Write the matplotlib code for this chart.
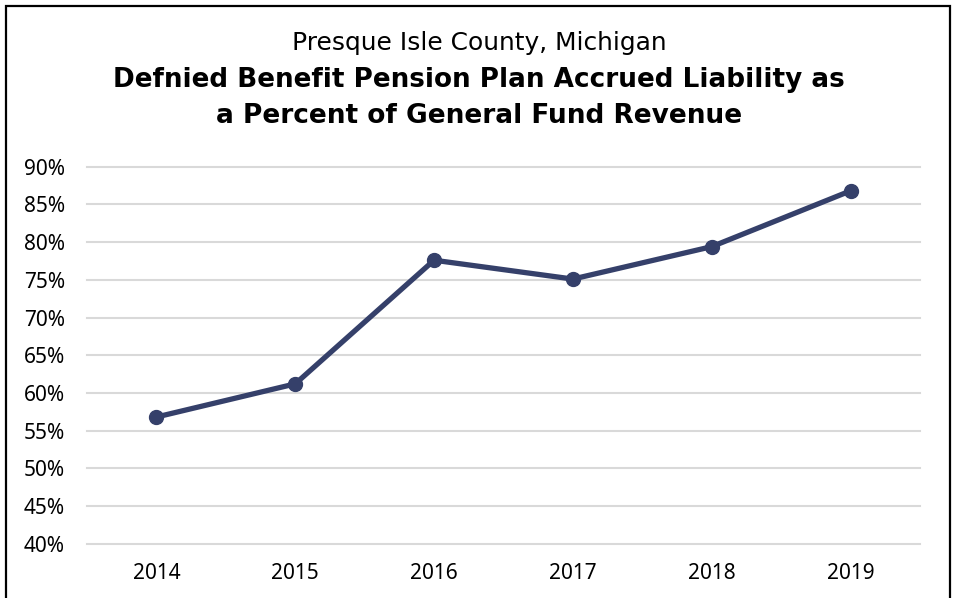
import matplotlib
matplotlib.use('Agg')
import matplotlib.pyplot as plt
from matplotlib.patches import Rectangle
from matplotlib.ticker import PercentFormatter

years = ['2014', '2015', '2016', '2017', '2018', '2019']
liability_pct = [0.568, 0.612, 0.776, 0.751, 0.794, 0.868]
yticks = [0.40, 0.45, 0.50, 0.55, 0.60, 0.65, 0.70, 0.75, 0.80, 0.85, 0.90]

navy = '#35406a'

fig = plt.figure(figsize=(9.57, 5.98), dpi=100)
ax = fig.add_axes([0.0909, 0.0908, 0.8704, 0.6304])

x = list(range(len(years)))
ax.plot(x, liability_pct, color=navy, lw=3.8, marker='o', ms=10, zorder=3)

ax.set_xlim(-0.5, len(years) - 0.5)
ax.set_ylim(0.40, 0.90)
ax.set_xticks(x)
ax.set_xticklabels(years)
ax.set_yticks(yticks)
ax.yaxis.set_major_formatter(PercentFormatter(1.0, decimals=0))
ax.grid(axis='y', color='#d9d9d9', lw=1.5)
for gl in ax.get_ygridlines():
    gl.set_clip_on(False)
ax.set_axisbelow(True)
for s in ax.spines.values():
    s.set_visible(False)
ax.tick_params(length=0, labelsize=15)
ax.tick_params(axis='y', pad=16)
ax.tick_params(axis='x', pad=14)
for lab in ax.get_xticklabels() + ax.get_yticklabels():
    lab.set_family('Noto Sans')

fig.text(0.5005, 1 - 43/598, 'Presque Isle County, Michigan', ha='center', va='center',
         fontsize=17.9, family='DejaVu Sans')
fig.text(0.5005, 1 - 80/598, 'Defnied Benefit Pension Plan Accrued Liability as', ha='center',
         va='center', fontsize=18.9, fontweight='bold', family='DejaVu Sans')
fig.text(0.5005, 1 - 116/598, 'a Percent of General Fund Revenue', ha='center',
         va='center', fontsize=19, fontweight='bold', family='DejaVu Sans')

# outer frame of the chart
fig.patches.append(Rectangle((6/957, -0.05), 944/957, 1.05 - 6/598, transform=fig.transFigure,
                             fill=False, ec='black', lw=1.6))

fig.savefig('out.png', dpi=100)
